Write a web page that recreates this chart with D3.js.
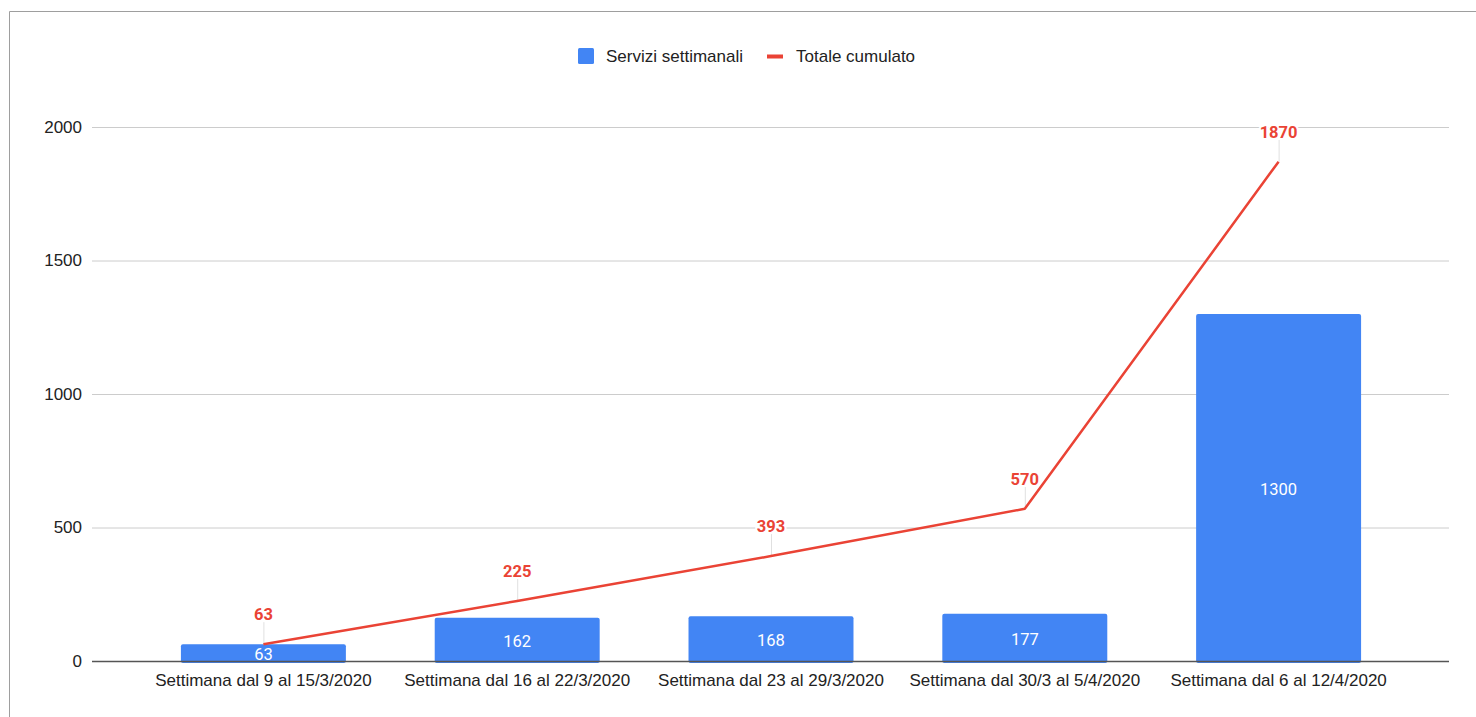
<!DOCTYPE html>
<html>
<head>
<meta charset="utf-8">
<script src="https://cdn.jsdelivr.net/npm/d3@7"></script>
<style>
  body { margin: 0; background: #fff; }
  svg { display: block; }
</style>
</head>
<body>
<div id="chart"></div>
<script>
const categories = [
  "Settimana dal 9 al 15/3/2020",
  "Settimana dal 16 al 22/3/2020",
  "Settimana dal 23 al 29/3/2020",
  "Settimana dal 30/3 al 5/4/2020",
  "Settimana dal 6 al 12/4/2020"
];
const weekly = [63, 162, 168, 177, 1300];
const cumulative = [63, 225, 393, 570, 1870];
const yTicks = [0, 500, 1000, 1500, 2000];
const seriesNames = ["Servizi settimanali", "Totale cumulato"];

const width = 1476, height = 717;
const blue = "#4285f4", red = "#ea4335";
const axisFont = "'Liberation Sans', Arial, sans-serif";
const labelFont = "Roboto, 'Noto Sans', sans-serif";

const svg = d3.select("#chart").append("svg")
  .attr("width", width).attr("height", height);

// frame
svg.append("path")
  .attr("d", `M9.5,${height} V11.5 H${width}`)
  .attr("fill", "none").attr("stroke", "#9e9e9e").attr("stroke-width", 1);

const plot = { left: 92, right: 1449, top: 127, bottom: 661 };

const y = d3.scaleLinear().domain([0, 2000]).range([plot.bottom, plot.top]);
const x = d3.scaleBand().domain(categories).range([136.5, 1405.5])
  .paddingInner(0.35).paddingOuter(0.175);

// grid
svg.append("g").selectAll("line")
  .data(yTicks.filter(d => d > 0))
  .join("line")
  .attr("x1", plot.left).attr("x2", plot.right)
  .attr("y1", d => y(d) + 0.5).attr("y2", d => y(d) + 0.5)
  .attr("stroke", "#cccccc");

// y labels
svg.append("g").selectAll("text")
  .data(yTicks)
  .join("text")
  .attr("x", 82).attr("y", d => y(d))
  .attr("dy", "0.35em")
  .attr("text-anchor", "end")
  .attr("font-family", axisFont).attr("font-size", 17).attr("fill", "#222")
  .text(d => d);

// bars
svg.append("g").selectAll("rect")
  .data(weekly)
  .join("rect")
  .attr("x", (d, i) => x(categories[i]))
  .attr("width", x.bandwidth())
  .attr("y", d => y(d))
  .attr("height", d => y(0) - y(d) + 2)
  .attr("rx", 2)
  .attr("fill", blue);

// zero axis line
svg.append("line")
  .attr("x1", plot.left).attr("x2", plot.right)
  .attr("y1", y(0) + 0.5).attr("y2", y(0) + 0.5)
  .attr("stroke", "#555").attr("stroke-width", 1.5);

// bar labels
svg.append("g").selectAll("text")
  .data(weekly)
  .join("text")
  .attr("x", (d, i) => x(categories[i]) + x.bandwidth() / 2)
  .attr("y", d => (y(d) + y(0)) / 2 + 1.5)
  .attr("dy", "0.36em")
  .attr("text-anchor", "middle")
  .attr("font-family", labelFont).attr("font-size", 16.5).attr("fill", "#fff")
  .text(d => d);

// x labels
svg.append("g").selectAll("text")
  .data(categories)
  .join("text")
  .attr("x", d => x(d) + x.bandwidth() / 2)
  .attr("y", 686)
  .attr("text-anchor", "middle")
  .attr("font-family", axisFont).attr("font-size", 17).attr("fill", "#222")
  .text(d => d);

// cumulative line
const cx = i => x(categories[i]) + x.bandwidth() / 2;
const line = d3.line().x((d, i) => cx(i)).y(d => y(d));

// leader lines
svg.append("g").selectAll("line")
  .data(cumulative)
  .join("line")
  .attr("x1", (d, i) => cx(i) + 0.5).attr("x2", (d, i) => cx(i) + 0.5)
  .attr("y1", d => y(d)).attr("y2", d => y(d) - 22)
  .attr("stroke", "#e0e0e0");

svg.append("path")
  .datum(cumulative)
  .attr("d", line)
  .attr("fill", "none").attr("stroke", red).attr("stroke-width", 2.5)
  .attr("stroke-linejoin", "round");

svg.append("g").selectAll("text")
  .data(cumulative)
  .join("text")
  .attr("x", (d, i) => cx(i))
  .attr("y", d => y(d) - 24)
  .attr("text-anchor", "middle")
  .attr("font-family", labelFont).attr("font-size", 16.5).attr("font-weight", "bold")
  .attr("fill", red)
  .attr("stroke", "#fff").attr("stroke-width", 4).attr("paint-order", "stroke")
  .text(d => d);

// legend
const legend = svg.append("g").attr("font-family", axisFont).attr("font-size", 17).attr("fill", "#222");
legend.append("rect").attr("x", 578).attr("y", 48).attr("width", 16).attr("height", 16).attr("rx", 1.5).attr("fill", blue);
legend.append("text").attr("x", 606).attr("y", 56).attr("dy", "0.35em").text(seriesNames[0]);
legend.append("rect").attr("x", 767).attr("y", 54.5).attr("width", 16).attr("height", 4).attr("fill", red);
legend.append("text").attr("x", 796).attr("y", 56).attr("dy", "0.35em").text(seriesNames[1]);
</script>
</body>
</html>
